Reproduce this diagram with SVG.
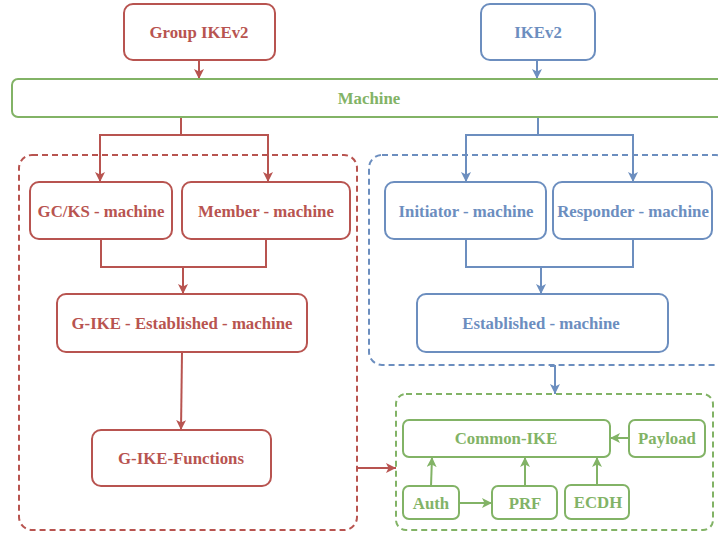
<svg xmlns="http://www.w3.org/2000/svg" width="718" height="536" viewBox="0 0 718 536">
  <style>
    text { font-family: "Liberation Serif", "Times New Roman", serif; font-weight: bold; font-size: 16.8px; text-anchor: middle; }
    .r rect, rect.r { fill: #ffffff; stroke: #b85450; stroke-width: 2; }
    .b rect, rect.b { fill: #ffffff; stroke: #6c8ebf; stroke-width: 2; }
    .g rect, rect.g { fill: #ffffff; stroke: #82b366; stroke-width: 2; }
    .r text { fill: #b85450; }
    .b text { fill: #6c8ebf; }
    .g text { fill: #82b366; }
    .grp { fill: none; stroke-width: 2; stroke-dasharray: 6 4; }
    .cr { fill: none; stroke: #b85450; stroke-width: 2; }
    .cb { fill: none; stroke: #6c8ebf; stroke-width: 2; }
    .cg { fill: none; stroke: #82b366; stroke-width: 2; }
  </style>
  <defs>
    <marker id="ar" markerUnits="userSpaceOnUse" markerWidth="12" markerHeight="12" refX="10" refY="5" orient="auto">
      <path d="M0,0 L10,5 L0,10 L2.5,5 Z" fill="#b85450"/>
    </marker>
    <marker id="ab" markerUnits="userSpaceOnUse" markerWidth="12" markerHeight="12" refX="10" refY="5" orient="auto">
      <path d="M0,0 L10,5 L0,10 L2.5,5 Z" fill="#6c8ebf"/>
    </marker>
    <marker id="ag" markerUnits="userSpaceOnUse" markerWidth="12" markerHeight="12" refX="10" refY="5" orient="auto">
      <path d="M0,0 L10,5 L0,10 L2.5,5 Z" fill="#82b366"/>
    </marker>
  </defs>

  <!-- dashed containers -->
  <rect id="group-red" class="grp" x="19" y="155" width="338" height="375" rx="13" stroke="#b85450"/>
  <rect id="group-blue" class="grp" x="369" y="155" width="360" height="210" rx="13" stroke="#6c8ebf"/>
  <rect id="group-green" class="grp" x="396" y="394" width="317" height="136" rx="10" stroke="#82b366"/>

  <!-- connectors -->
  <g id="connectors">
    <path class="cr" d="M199,60 V79" marker-end="url(#ar)"/>
    <path class="cb" d="M537,60 V79" marker-end="url(#ab)"/>
    <path class="cr" d="M190,117 H181 V135 H100 V182" marker-end="url(#ar)"/>
    <path class="cr" d="M181,135 H268 V182" marker-end="url(#ar)"/>
    <path class="cb" d="M547,117 H538 V135 H466 V182" marker-end="url(#ab)"/>
    <path class="cb" d="M538,135 H633 V182" marker-end="url(#ab)"/>
    <path class="cr" d="M101,239 V267 H266 V239"/>
    <path class="cr" d="M183,267 V294" marker-end="url(#ar)"/>
    <path class="cb" d="M466,239 V267 H633 V239"/>
    <path class="cb" d="M541,267 V294" marker-end="url(#ab)"/>
    <path class="cr" d="M182,352 L181,430" marker-end="url(#ar)"/>
    <path class="cb" d="M550,366 H555 V394" marker-end="url(#ab)"/>
    <path class="cr" d="M357,468 H396" marker-end="url(#ar)"/>
    <path class="cg" d="M629,438 H610" marker-end="url(#ag)"/>
    <path class="cg" d="M459,503 H492" marker-end="url(#ag)"/>
    <path class="cg" d="M431,486 L432,457" marker-end="url(#ag)"/>
    <path class="cg" d="M525,486 V457" marker-end="url(#ag)"/>
    <path class="cg" d="M597,485 V457" marker-end="url(#ag)"/>
  </g>

  <!-- nodes -->
  <g id="group-ikev2" class="r"><rect x="124" y="4" width="151" height="56" rx="9"/><text x="199" y="38">Group IKEv2</text></g>
  <g id="ikev2" class="b"><rect x="481" y="4" width="114" height="56" rx="9"/><text x="538" y="38">IKEv2</text></g>
  <g id="machine" class="g"><rect x="12" y="79" width="714" height="38" rx="6"/><text x="369" y="104">Machine</text></g>

  <g id="gcks-machine" class="r"><rect x="30" y="182" width="142" height="57" rx="9"/><text x="101" y="217">GC/KS - machine</text></g>
  <g id="member-machine" class="r"><rect x="182" y="182" width="168" height="57" rx="9"/><text x="266" y="217">Member - machine</text></g>
  <g id="gike-established" class="r"><rect x="57" y="294" width="250" height="58" rx="9"/><text x="182" y="329">G-IKE - Established - machine</text></g>
  <g id="gike-functions" class="r"><rect x="92" y="430" width="179" height="56" rx="9"/><text x="181" y="464">G-IKE-Functions</text></g>

  <g id="initiator-machine" class="b"><rect x="385" y="182" width="161" height="57" rx="9"/><text x="466" y="217">Initiator - machine</text></g>
  <g id="responder-machine" class="b"><rect x="553" y="182" width="159" height="57" rx="9"/><text x="633" y="217">Responder - machine</text></g>
  <g id="established-machine" class="b"><rect x="417" y="294" width="251" height="58" rx="9"/><text x="541" y="329">Established - machine</text></g>

  <g id="common-ike" class="g"><rect x="403" y="420" width="207" height="37" rx="6"/><text x="506" y="444">Common-IKE</text></g>
  <g id="payload" class="g"><rect x="629" y="420" width="76" height="37" rx="6"/><text x="667" y="444">Payload</text></g>
  <g id="auth" class="g"><rect x="403" y="486" width="56" height="33" rx="6"/><text x="431" y="509">Auth</text></g>
  <g id="prf" class="g"><rect x="492" y="486" width="65" height="33" rx="6"/><text x="525" y="509">PRF</text></g>
  <g id="ecdh" class="g"><rect x="565" y="485" width="64" height="34" rx="6"/><text x="598" y="508">ECDH</text></g>
</svg>
